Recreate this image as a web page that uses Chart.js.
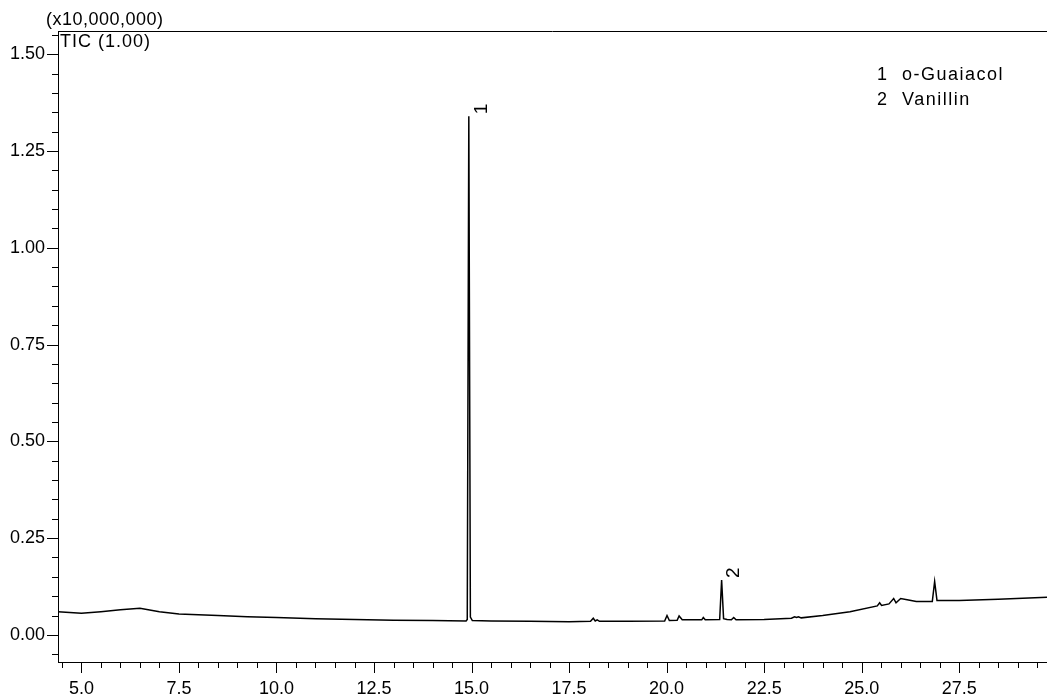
<!DOCTYPE html>
<html lang="en">
<head>
    <meta charset="UTF-8">
    <title>TIC chromatogram</title>
    <script src="https://cdn.jsdelivr.net/npm/chart.js@4.4.1/dist/chart.umd.min.js"></script>
    <style>
        body { margin: 0; background: #fff; }
        #chart { display: block; }
    </style>
</head>
<body>
    <canvas id="chart" width="1047" height="694"></canvas>

    <script>
        // retention time (min) and intensity (x10,000,000)
        const retentionTimes = [
            4.40, 4.70, 5.00, 5.50, 6.00, 6.50, 7.00, 7.50, 8.00, 8.50, 9.25, 10.00,
            11.00, 12.00, 13.00, 14.00, 14.86, 14.89, 14.93, 14.97, 15.02,
            15.50, 16.50, 17.50, 18.05, 18.12, 18.17, 18.22, 18.28, 19.00,
            19.95, 20.01, 20.07, 20.27, 20.32, 20.40, 20.90, 20.94, 20.99,
            21.36, 21.41, 21.46, 21.55, 21.66, 21.72, 21.78, 22.50,
            23.20, 23.28, 23.33, 23.38, 23.45, 24.00, 24.70,
            25.40, 25.46, 25.51, 25.70, 25.82, 25.88, 26.00, 26.20, 26.40,
            26.81, 26.87, 26.93, 27.50, 28.50, 29.75
        ];
        const intensities = [
            0.060, 0.058, 0.056, 0.060, 0.065, 0.069, 0.060, 0.054, 0.052, 0.050, 0.047, 0.045,
            0.042, 0.040, 0.038, 0.037, 0.036, 0.040, 1.340, 0.046, 0.037,
            0.036, 0.035, 0.034, 0.035, 0.043, 0.036, 0.039, 0.035, 0.035,
            0.036, 0.050, 0.037, 0.038, 0.049, 0.039, 0.039, 0.045, 0.039,
            0.040, 0.142, 0.042, 0.040, 0.039, 0.045, 0.039, 0.040,
            0.043, 0.047, 0.045, 0.047, 0.044, 0.050, 0.060,
            0.075, 0.083, 0.076, 0.080, 0.094, 0.083, 0.094, 0.090, 0.086,
            0.086, 0.138, 0.089, 0.089, 0.092, 0.097
        ];

        const peakTimes = [14.93, 21.41];
        const peakHeights = [1.340, 0.142];
        const peakNumbers = ['1', '2'];
        const compoundNames = ['o-Guaiacol', 'Vanillin'];

        const xTickLabels = ['5.0', '7.5', '10.0', '12.5', '15.0', '17.5', '20.0', '22.5', '25.0', '27.5'];
        const yTickLabels = ['0.00', '0.25', '0.50', '0.75', '1.00', '1.25', '1.50'];

        const FONT = '"Liberation Sans", Arial, sans-serif';

        function minorTicks(from, to, step) {
            let list = [];
            for (let v = from; v <= to + 1e-9; v += step) {
                list.push(Math.round(v * 100) / 100);
            }
            return list;
        }
        const xTickValues = minorTicks(4.5, 29.5, 0.5);
        const yTickValues = minorTicks(-0.05, 1.55, 0.05);

        function isMajor(labels, v) {
            return labels.some(l => Math.abs(parseFloat(l) - v) < 1e-6);
        }

        let points = retentionTimes.map((t, i) => ({ x: t, y: intensities[i] }));

        const decorations = {
            id: 'decorations',
            afterDraw(chart) {
                const ctx = chart.ctx;
                const area = chart.chartArea;
                const xs = chart.scales.x;
                const ys = chart.scales.y;
                ctx.save();
                ctx.strokeStyle = '#000';
                ctx.lineWidth = 1;

                // top frame line
                ctx.beginPath();
                ctx.moveTo(area.left, Math.round(area.top) + 0.5);
                ctx.lineTo(area.right, Math.round(area.top) + 0.5);
                ctx.stroke();

                // tick marks, long for labelled ones
                ctx.beginPath();
                yTickValues.forEach(v => {
                    let py = Math.round(ys.getPixelForValue(v)) + 0.5;
                    let len = isMajor(yTickLabels, v) ? 11 : 6;
                    ctx.moveTo(area.left, py);
                    ctx.lineTo(area.left - len, py);
                });
                xTickValues.forEach(v => {
                    let px = Math.round(xs.getPixelForValue(v)) + 0.5;
                    let len = isMajor(xTickLabels, v) ? 11 : 6;
                    ctx.moveTo(px, area.bottom);
                    ctx.lineTo(px, area.bottom + len);
                });
                ctx.stroke();

                ctx.fillStyle = '#000';
                ctx.font = '18px ' + FONT;
                ctx.textBaseline = 'middle';
                ctx.textAlign = 'left';
                ctx.letterSpacing = '0.5px';
                ctx.fillText('(x10,000,000)', 46, 20);
                ctx.letterSpacing = '1px';
                ctx.fillText('TIC (1.00)', 60, 42);

                // compound list
                compoundNames.forEach((name, i) => {
                    ctx.letterSpacing = '0px';
                    ctx.fillText(peakNumbers[i], 877, 75 + i * 25);
                    ctx.letterSpacing = '1.5px';
                    ctx.fillText(name, 902, 75 + i * 25);
                });
                ctx.letterSpacing = '0px';

                // peak numbers, written upward
                ctx.font = '19px ' + FONT;
                peakTimes.forEach((t, i) => {
                    let px = xs.getPixelForValue(t);
                    let py = ys.getPixelForValue(peakHeights[i]);
                    ctx.save();
                    ctx.translate(px + 3, py - 2);
                    ctx.rotate(-Math.PI / 2);
                    ctx.textBaseline = 'top';
                    ctx.fillText(peakNumbers[i], 0, 0);
                    ctx.restore();
                });
                ctx.restore();
            }
        };

        new Chart(document.getElementById('chart'), {
            type: 'scatter',
            data: {
                datasets: [{
                    data: points,
                    showLine: true,
                    borderColor: '#000',
                    borderWidth: 1.5,
                    pointRadius: 0,
                    tension: 0
                }]
            },
            options: {
                responsive: false,
                devicePixelRatio: 1,
                animation: false,
                layout: { padding: { top: 31, left: 0, right: 0, bottom: 0 } },
                plugins: {
                    legend: { display: false },
                    tooltip: { enabled: false }
                },
                scales: {
                    x: {
                        type: 'linear',
                        min: 4.4,
                        max: 29.75,
                        afterBuildTicks: scale => {
                            scale.ticks = xTickValues.map(v => ({ value: v }));
                        },
                        afterFit: scale => {
                            scale.height = 32;
                            scale.paddingLeft = 0;
                            scale.paddingRight = 0;
                        },
                        grid: { display: false, drawTicks: false },
                        border: { display: true, color: '#000', width: 1 },
                        ticks: {
                            autoSkip: false,
                            maxRotation: 0,
                            minRotation: 0,
                            padding: 16,
                            color: '#000',
                            font: { family: FONT, size: 18 },
                            callback: v => isMajor(xTickLabels, v) ? v.toFixed(1) : ''
                        }
                    },
                    y: {
                        min: -0.07,
                        max: 1.56,
                        afterBuildTicks: scale => {
                            scale.ticks = yTickValues.map(v => ({ value: v }));
                        },
                        afterFit: scale => { scale.width = 58; },
                        grid: { display: false, drawTicks: false },
                        border: { display: true, color: '#000', width: 1 },
                        ticks: {
                            autoSkip: false,
                            padding: 13,
                            color: '#000',
                            font: { family: FONT, size: 18 },
                            callback: v => isMajor(yTickLabels, v) ? v.toFixed(2) : ''
                        }
                    }
                }
            },
            plugins: [decorations]
        });
    </script>
</body>
</html>
